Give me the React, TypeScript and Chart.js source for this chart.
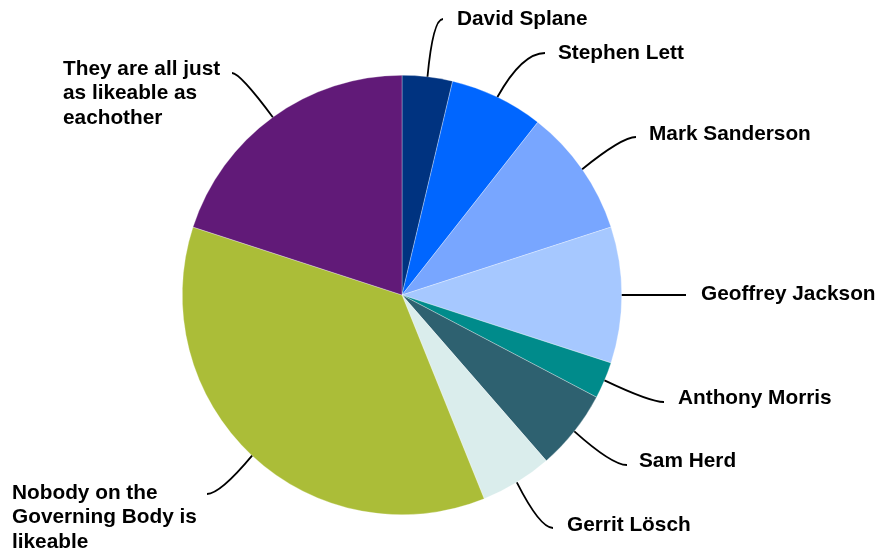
import React, { useEffect, useRef } from "react";
import { Chart, registerables } from "chart.js";

Chart.register(...registerables);

const categories: string[][] = [
  ["David Splane"],
  ["Stephen Lett"],
  ["Mark Sanderson"],
  ["Geoffrey Jackson"],
  ["Anthony Morris"],
  ["Sam Herd"],
  ["Gerrit Lösch"],
  ["Nobody on the", "Governing Body is", "likeable"],
  ["They are all just", "as likeable as", "eachother"],
];

const values: number[] = [3.7, 6.9, 9.4, 10.0, 2.7, 5.9, 5.3, 36.1, 20.0];

const colors: string[] = [
  "#003380",
  "#0066FF",
  "#78A6FF",
  "#A6C8FF",
  "#008B8B",
  "#2E6170",
  "#DAEDEC",
  "#ABBD38",
  "#611A78",
];

// label layout: [controlX, controlY, endX, endY, textX, textY]
const labelLayout: number[][] = [
  [433, 19, 443, 19, 457, 19],
  [522, 53, 545, 53, 558, 53],
  [622, 137, 636, 137, 649, 134],
  [654, 295, 686, 295, 701, 294],
  [650, 402, 664, 402, 678, 398],
  [612, 465, 627, 465, 639, 461],
  [540, 528, 553, 528, 567, 525],
  [220, 494, 207, 494, 12, 493],
  [240, 73, 232, 73, 63, 69],
];

const LINE_HEIGHT = 24.5;

const labelPlugin = {
  id: "leaderLabels",
  afterDatasetsDraw(chart: any) {
    const ctx = chart.ctx;
    const meta = chart.getDatasetMeta(0);
    ctx.save();
    ctx.strokeStyle = "#000";
    ctx.lineWidth = 1.8;
    ctx.fillStyle = "#000";
    ctx.font = "bold 20.8px 'Liberation Sans', Arial, sans-serif";
    ctx.textBaseline = "middle";
    ctx.textAlign = "left";
    meta.data.forEach((arc: any, i: number) => {
      const mid = (arc.startAngle + arc.endAngle) / 2;
      const sx = arc.x + Math.cos(mid) * arc.outerRadius;
      const sy = arc.y + Math.sin(mid) * arc.outerRadius;
      const [cx, cy, ex, ey, tx, ty] = labelLayout[i];
      ctx.beginPath();
      ctx.moveTo(sx, sy);
      ctx.quadraticCurveTo(cx, cy, ex, ey);
      ctx.stroke();
      categories[i].forEach((line, j) => {
        ctx.fillText(line, tx, ty + j * LINE_HEIGHT);
      });
    });
    ctx.restore();
  },
};

export default function App() {
  const ref = useRef<HTMLCanvasElement | null>(null);
  useEffect(() => {
    if (!ref.current) return;
    const chart = new Chart(ref.current, {
      type: "pie",
      data: {
        labels: categories.map((c) => c.join(" ")),
        datasets: [
          {
            data: values,
            backgroundColor: colors,
            borderColor: "rgba(255,255,255,0.6)",
            borderWidth: 0.5,
          },
        ],
      },
      options: {
        responsive: false,
        animation: false,
        devicePixelRatio: 1,
        layout: { padding: { left: 182, right: 257, top: 75, bottom: 39 } },
        plugins: {
          legend: { display: false },
          tooltip: { enabled: false },
        },
      },
      plugins: [labelPlugin],
    });
    return () => chart.destroy();
  }, []);
  return (
    <div style={{ position: "absolute", left: 0, top: 0, width: 879, height: 554, background: "#fff" }}>
      <canvas ref={ref} width={879} height={554} />
    </div>
  );
}
